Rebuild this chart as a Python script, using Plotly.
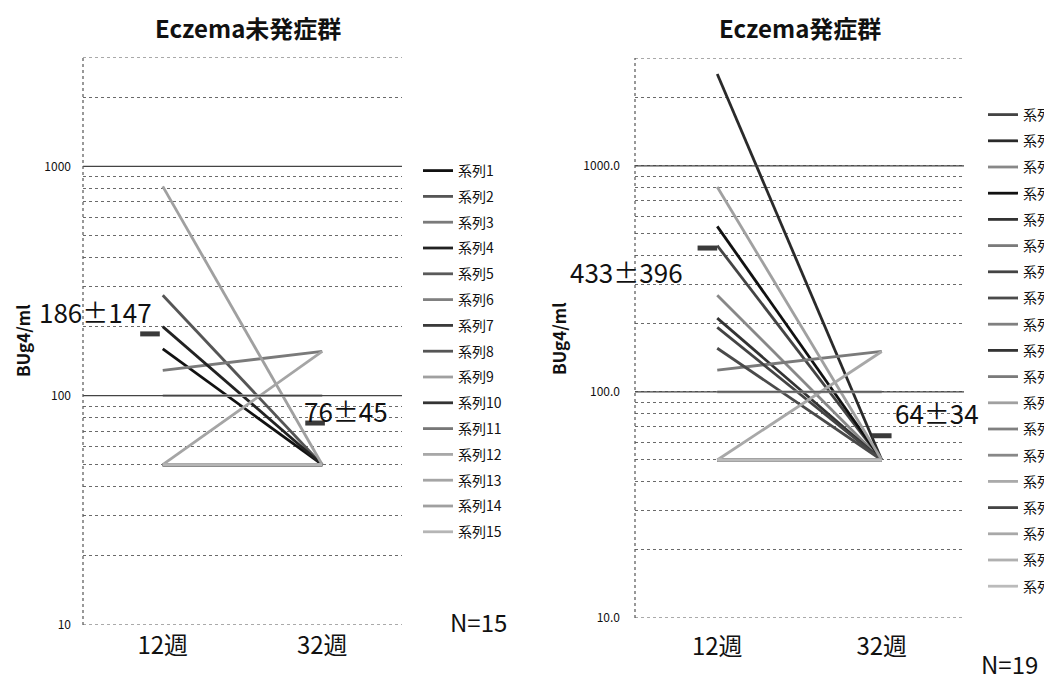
import math
import plotly.graph_objects as go

# ---- data ----------------------------------------------------------------
weeks = ["12週", "32週"]

# Eczema未発症群 (15 subjects): BUg4/ml at week 12 and week 32
no_ecz_w12 = [160, 274, 129, 200, 50, 50, 50, 50, 818, 50, 50, 100, 50, 50, 50]
no_ecz_w32 = [50, 50, 156, 50, 50, 50, 50, 50, 50, 50, 50, 100, 156, 50, 50]
no_ecz_mean = [186, 76]
no_ecz_sd = [147, 45]

# Eczema発症群 (19 subjects)
ecz_w12 = [444, 2550, 268, 540, 212, 125, 193, 156, 50, 50,
           50, 806, 50, 50, 100, 50, 50, 50, 50]
ecz_w32 = [50, 50, 50, 50, 50, 151, 50, 50, 50, 50,
           50, 50, 50, 50, 100, 50, 151, 50, 50]
ecz_mean = [433, 64]
ecz_sd = [396, 34]

# gridline values on the log axis and their labels
grid_vals = [10, 20, 30, 40, 50, 60, 70, 80, 90,
             100, 200, 300, 400, 500, 600, 700, 800, 900, 1000, 2000, 3000]
left_tick_text = {10: "10", 100: "100", 1000: "1000"}
right_tick_text = {10: "10.0", 100: "100.0", 1000: "1000.0"}

# ---- styles --------------------------------------------------------------
no_ecz_colors = ["#111111", "#555555", "#7a7a7a", "#222222", "#5a5a5a",
                 "#808080", "#3a3a3a", "#555555", "#a0a0a0", "#333333",
                 "#777777", "#a8a8a8", "#a5a5a5", "#a0a0a0", "#b5b5b5"]
ecz_colors = ["#444444", "#2a2a2a", "#888888", "#111111", "#333333",
              "#7a7a7a", "#444444", "#4a4a4a", "#808080", "#333333",
              "#7a7a7a", "#a0a0a0", "#808080", "#888888", "#aaaaaa",
              "#444444", "#a8a8a8", "#b0b0b0", "#bbbbbb"]

FONT = "Noto Sans CJK JP"
W, H = 1044, 676

fig = go.Figure()


def add_panel(w12, w32, colors, xa, ya, legend):
    for i, (a, b) in enumerate(zip(w12, w32)):
        fig.add_trace(go.Scatter(
            x=[0, 1], y=[a, b], mode="lines",
            name=f"系列{i + 1}",
            line=dict(color=colors[i], width=2.8),
            xaxis=xa, yaxis=ya, legend=legend,
            legendgroup=f"{legend}-{i}",
            hoverinfo="skip",
        ))


add_panel(no_ecz_w12, no_ecz_w32, no_ecz_colors, "x", "y", "legend")
add_panel(ecz_w12, ecz_w32, ecz_colors, "x2", "y2", "legend2")

# group means drawn as small dark bars, nudged left of each time point
for means, xa, ya, dx in [(no_ecz_mean, "x", "y", [-0.08, -0.045]),
                          (ecz_mean, "x2", "y2", [-0.06, 0.0])]:
    fig.add_trace(go.Scatter(
        x=[0 + dx[0], 1 + dx[1]], y=means, mode="markers",
        marker=dict(symbol="line-ew", size=14,
                    line=dict(width=5, color="#3a3a3a")),
        xaxis=xa, yaxis=ya, showlegend=False, hoverinfo="skip",
    ))

# ---- axes ----------------------------------------------------------------
def px_x(a, b):
    return [a / W, b / W]


def px_y(top, bottom):
    return [(H - bottom) / H, (H - top) / H]


yrange = [1, math.log10(3000)]
common_x = dict(range=[-0.5, 1.5], tickvals=[0, 1], ticktext=weeks,
                tickfont=dict(family=FONT, size=24, color="#111"),
                showgrid=False, zeroline=False, showline=False, ticks="",
                fixedrange=True)
common_y = dict(type="log", range=yrange, tickvals=grid_vals,
                showgrid=True, gridcolor="#6a6a6a", griddash="dot",
                gridwidth=1, zeroline=False, showline=False, ticks="",
                tickfont=dict(family=FONT, size=12, color="#111"))

fig.update_layout(
    xaxis=dict(domain=px_x(83, 402), anchor="y", ticklabelstandoff=4,
               **common_x),
    yaxis=dict(domain=px_y(57, 625), anchor="x",
               ticktext=[left_tick_text.get(v, "") for v in grid_vals],
               ticklabelstandoff=11, **common_y),
    xaxis2=dict(domain=px_x(635, 964), anchor="y2", ticklabelstandoff=12,
                **common_x),
    yaxis2=dict(domain=px_y(58, 618), anchor="x2",
                ticktext=[right_tick_text.get(v, "") for v in grid_vals],
                ticklabelstandoff=14, **common_y),
)

# solid decade lines, frame edges and dotted vertical axis lines
shapes = []
for xr, yr in [("x", "y"), ("x2", "y2")]:
    for v in (100, 1000):
        shapes.append(dict(type="line", xref=f"{xr} domain", yref=yr,
                           x0=0, x1=1, y0=v, y1=v,
                           line=dict(color="#444", width=1.2)))
    for v in (10, 3000):
        shapes.append(dict(type="line", xref=f"{xr} domain", yref=yr,
                           x0=0, x1=1, y0=v, y1=v,
                           line=dict(color="#555", width=1, dash="dot")))
    shapes.append(dict(type="line", xref=f"{xr} domain", yref=f"{yr} domain",
                       x0=0, x1=0, y0=0, y1=1,
                       line=dict(color="#555", width=1.2, dash="dot")))

# ---- text ----------------------------------------------------------------
def note(text, x, y, size=22, bold=False, angle=0, xanchor="center"):
    return dict(text=f"<b>{text}</b>" if bold else text,
                x=x / W, y=1 - y / H, xref="paper", yref="paper",
                xanchor=xanchor, yanchor="middle", showarrow=False,
                textangle=angle,
                font=dict(family=FONT, size=size, color="#111"))


annotations = [
    note("Eczema未発症群", 248, 28, size=24, bold=True),
    note("Eczema発症群", 800, 28, size=24, bold=True),
    note("BUg4/ml", 22, 341, size=17, bold=True, angle=-90),
    note("BUg4/ml", 559, 339, size=17, bold=True, angle=-90),
    note(f"{no_ecz_mean[0]}±{no_ecz_sd[0]}", 95, 311, size=26),
    note(f"{no_ecz_mean[1]}±{no_ecz_sd[1]}", 346, 410, size=26),
    note(f"{ecz_mean[0]}±{ecz_sd[0]}", 626, 271, size=26),
    note(f"{ecz_mean[1]}±{ecz_sd[1]}", 937, 412, size=26),
    note(f"N={len(no_ecz_w12)}", 478, 621, size=24),
    note(f"N={len(ecz_w12)}", 1009, 663, size=24),
]

legend_style = dict(font=dict(family=FONT, size=14, color="#111"),
                    bgcolor="rgba(0,0,0,0)",
                    itemwidth=30, xanchor="left", yanchor="top")

fig.update_layout(
    width=W, height=H,
    margin=dict(l=0, r=0, t=0, b=0, autoexpand=False),
    paper_bgcolor="white", plot_bgcolor="white",
    shapes=shapes, annotations=annotations,
    legend=dict(x=418 / W, y=1 - 155 / H, tracegroupgap=4.6, **legend_style),
    legend2=dict(x=983 / W, y=1 - 99 / H, tracegroupgap=5, **legend_style),
    showlegend=True,
)

fig.write_html("out.html")
